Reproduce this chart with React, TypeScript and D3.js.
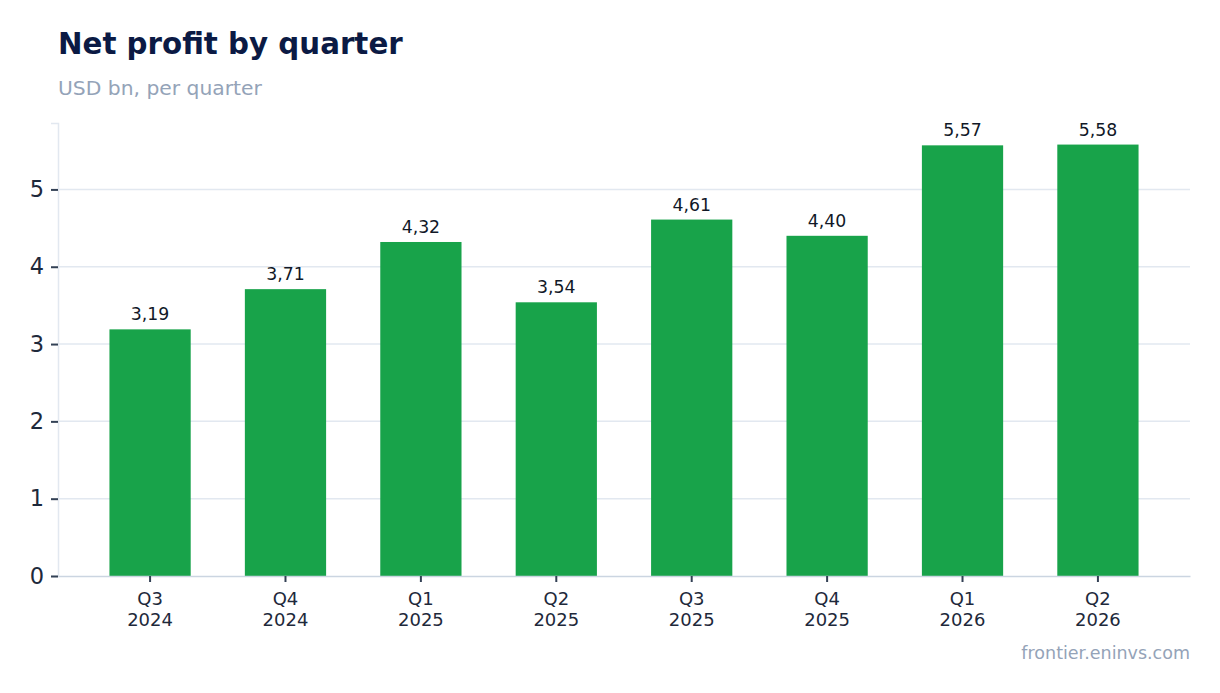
import { useEffect, useRef } from 'react';
import * as d3 from 'd3';

const WIDTH = 1220;
const HEIGHT = 693;
const MARGIN = { top: 123, right: 30, bottom: 117, left: 58 };

const quarters = ['Q3', 'Q4', 'Q1', 'Q2', 'Q3', 'Q4', 'Q1', 'Q2'];
const years = ['2024', '2024', '2025', '2025', '2025', '2025', '2026', '2026'];
const profits = [3.19, 3.71, 4.32, 3.54, 4.61, 4.4, 5.57, 5.58];
const yTicks = [0, 1, 2, 3, 4, 5];

const FONT = "'DejaVu Sans', sans-serif";
const BAR_COLOR = '#18a34a';

export default function App() {
  const svgRef = useRef<SVGSVGElement>(null);

  useEffect(() => {
    if (!svgRef.current) return;
    const svg = d3.select(svgRef.current);
    svg.selectAll('*').remove();

    const boundsWidth = WIDTH - MARGIN.left - MARGIN.right;
    const boundsHeight = HEIGHT - MARGIN.top - MARGIN.bottom;
    const keys = quarters.map((q, i) => `${q} ${years[i]}`);

    const x = d3.scaleBand<string>()
      .domain(keys)
      .range([0, boundsWidth])
      .paddingInner(0.4)
      .paddingOuter(0.38);

    const y = d3.scaleLinear()
      .domain([0, d3.max(profits)! * 1.05])
      .range([boundsHeight, 0]);

    // Título
    svg.append('text')
      .attr('x', MARGIN.left)
      .attr('y', 54)
      .style('font-family', FONT)
      .style('font-size', '29.3px')
      .style('font-weight', 'bold')
      .style('fill', '#0b1a44')
      .text('Net profit by quarter');

    svg.append('text')
      .attr('x', MARGIN.left)
      .attr('y', 95)
      .style('font-family', FONT)
      .style('font-size', '20.3px')
      .style('fill', '#94a3b8')
      .text('USD bn, per quarter');

    const g = svg.append('g').attr('transform', `translate(${MARGIN.left}, ${MARGIN.top})`);

    // Grade
    g.append('g')
      .selectAll('line')
      .data(yTicks.filter(t => t > 0))
      .join('line')
      .attr('x1', 0)
      .attr('x2', boundsWidth)
      .attr('y1', d => y(d))
      .attr('y2', d => y(d))
      .attr('stroke', '#e2e8f0')
      .attr('stroke-width', 1.5);

    // Barras
    g.append('g')
      .selectAll('rect')
      .data(profits)
      .join('rect')
      .attr('x', (_, i) => x(keys[i])!)
      .attr('y', d => y(d))
      .attr('width', x.bandwidth())
      .attr('height', d => boundsHeight - y(d))
      .attr('fill', BAR_COLOR);

    // Rótulos dos valores
    g.append('g')
      .selectAll('text')
      .data(profits)
      .join('text')
      .attr('x', (_, i) => x(keys[i])! + x.bandwidth() / 2)
      .attr('y', d => y(d) - 9)
      .attr('text-anchor', 'middle')
      .style('font-family', FONT)
      .style('font-size', '17.3px')
      .style('fill', '#111827')
      .text(d => d.toFixed(2).replace('.', ','));

    // Eixo Y
    const yAxis = g.append('g')
      .call(d3.axisLeft(y).tickValues(yTicks).tickSize(7).tickPadding(7).tickFormat(d3.format('d')));
    yAxis.select('.domain').attr('stroke', '#e2e8f0').attr('stroke-width', 1.5);
    yAxis.selectAll('.tick line').attr('stroke', '#334155').attr('stroke-width', 2);
    yAxis.selectAll('.tick text')
      .style('font-family', FONT)
      .style('font-size', '22.5px')
      .style('fill', '#1e293b');

    // Eixo X
    const xAxis = g.append('g')
      .attr('transform', `translate(0, ${boundsHeight})`)
      .call(d3.axisBottom(x).tickSize(6).tickSizeOuter(0).tickFormat(() => ''));
    xAxis.select('.domain').attr('stroke', '#cbd5e1').attr('stroke-width', 1.5);
    xAxis.selectAll('.tick line').attr('stroke', '#334155').attr('stroke-width', 2);
    xAxis.selectAll('.tick text').remove();
    xAxis.selectAll<SVGGElement, string>('.tick').each(function (_, i) {
      const t = d3.select(this).append('text')
        .attr('text-anchor', 'middle')
        .style('font-family', FONT)
        .style('font-size', '18px')
        .style('fill', '#1e293b');
      t.append('tspan').attr('x', 0).attr('y', 29).text(quarters[i]);
      t.append('tspan').attr('x', 0).attr('y', 50).text(years[i]);
    });

    // Fonte
    svg.append('text')
      .attr('x', WIDTH - MARGIN.right)
      .attr('y', 659)
      .attr('text-anchor', 'end')
      .style('font-family', FONT)
      .style('font-size', '17.5px')
      .style('fill', '#94a3b8')
      .text('frontier.eninvs.com');
  }, []);

  return (
    <div style={{ position: 'absolute', left: 0, top: 0, background: '#fff' }}>
      <svg ref={svgRef} width={WIDTH} height={HEIGHT} style={{ display: 'block' }} />
    </div>
  );
}
